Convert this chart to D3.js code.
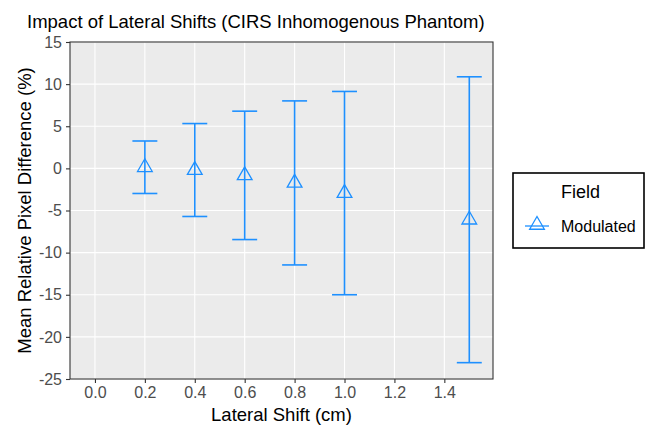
<!DOCTYPE html>
<html>
<head>
<meta charset="utf-8">
<script src="https://cdn.jsdelivr.net/npm/d3@7"></script>
<style>
  body { margin: 0; background: #fff; }
  svg { display: block; font-family: "Liberation Sans", Arial, sans-serif; }
</style>
</head>
<body>
<div class="content"></div>
<script>
const w = 645;
const h = 427;

// lateral shift (cm) and relative pixel difference (%)
const shifts = [0.2, 0.4, 0.6, 0.8, 1.0, 1.5];
const means = [0.13, -0.2, -0.83, -1.72, -2.93, -6.1];
const lower = [-2.98, -5.71, -8.45, -11.46, -15.0, -23.06];
const upper = [3.25, 5.32, 6.79, 8.01, 9.13, 10.87];

const xTicks = [0, 0.2, 0.4, 0.6, 0.8, 1.0, 1.2, 1.4];
const yTicks = [-25, -20, -15, -10, -5, 0, 5, 10, 15];
const seriesName = 'Modulated';
const colour = '#1e90ff';

const panel = { left: 70, right: 493, top: 42, bottom: 379 };

const svg = d3.select('.content').append('svg')
	.attr('width', w)
	.attr('height', h);

const x = d3.scaleLinear()
	.domain([-0.1, 1.595])
	.range([panel.left, panel.right]);

const y = d3.scaleLinear()
	.domain([-25, 15])
	.range([panel.bottom, panel.top]);

// panel background
svg.append('rect')
	.attr('x', panel.left)
	.attr('y', panel.top)
	.attr('width', panel.right - panel.left)
	.attr('height', panel.bottom - panel.top)
	.attr('fill', '#ebebeb');

// grid lines
svg.append('g')
	.selectAll('line')
	.data(xTicks)
	.join('line')
	.attr('x1', (d) => x(d))
	.attr('x2', (d) => x(d))
	.attr('y1', panel.top)
	.attr('y2', panel.bottom)
	.attr('stroke', '#fff')
	.attr('stroke-width', 1.1);

svg.append('g')
	.selectAll('line')
	.data(yTicks)
	.join('line')
	.attr('x1', panel.left)
	.attr('x2', panel.right)
	.attr('y1', (d) => y(d))
	.attr('y2', (d) => y(d))
	.attr('stroke', '#fff')
	.attr('stroke-width', 1.1);

// axes
const xAxis = d3.axisBottom(x)
	.tickValues(xTicks)
	.tickFormat((d) => d.toFixed(1))
	.tickSize(4)
	.tickPadding(4);

const yAxis = d3.axisLeft(y)
	.tickValues(yTicks)
	.tickFormat((d) => String(d))
	.tickSize(4)
	.tickPadding(4);

const gx = svg.append('g')
	.attr('transform', 'translate(0,' + panel.bottom + ')')
	.call(xAxis);

const gy = svg.append('g')
	.attr('transform', 'translate(' + panel.left + ',0)')
	.call(yAxis);

[gx, gy].forEach((g) => {
	g.select('.domain').remove();
	g.selectAll('.tick line').attr('stroke', '#333').attr('stroke-width', 1.1);
	g.selectAll('.tick text')
		.attr('fill', '#4d4d4d')
		.style('font-size', '16px')
		.style('font-family', '"Liberation Sans", Arial, sans-serif');
});

// panel border
svg.append('rect')
	.attr('x', panel.left)
	.attr('y', panel.top)
	.attr('width', panel.right - panel.left)
	.attr('height', panel.bottom - panel.top)
	.attr('fill', 'none')
	.attr('stroke', '#333')
	.attr('stroke-width', 1.1);

// error bars
const capHalf = x(0.05) - x(0);
const bars = svg.append('g');

bars.selectAll('.stem')
	.data(shifts)
	.join('line')
	.attr('x1', (d) => x(d))
	.attr('x2', (d) => x(d))
	.attr('y1', (d, i) => y(upper[i]))
	.attr('y2', (d, i) => y(lower[i]))
	.attr('stroke', colour)
	.attr('stroke-width', 1.6);

bars.selectAll('.capTop')
	.data(shifts)
	.join('line')
	.attr('x1', (d) => x(d) - capHalf)
	.attr('x2', (d) => x(d) + capHalf)
	.attr('y1', (d, i) => y(upper[i]))
	.attr('y2', (d, i) => y(upper[i]))
	.attr('stroke', colour)
	.attr('stroke-width', 1.6);

bars.selectAll('.capBottom')
	.data(shifts)
	.join('line')
	.attr('x1', (d) => x(d) - capHalf)
	.attr('x2', (d) => x(d) + capHalf)
	.attr('y1', (d, i) => y(lower[i]))
	.attr('y2', (d, i) => y(lower[i]))
	.attr('stroke', colour)
	.attr('stroke-width', 1.6);

// open triangles, like R pch 2
const r = 8.5;
const tri = (cx, cy) => {
	const xc = r * Math.sqrt(3) / 2;
	return 'M' + cx + ',' + (cy - r) +
		'L' + (cx + xc) + ',' + (cy + r / 2) +
		'L' + (cx - xc) + ',' + (cy + r / 2) + 'Z';
};

svg.append('g')
	.selectAll('path')
	.data(shifts)
	.join('path')
	.attr('d', (d, i) => tri(x(d), y(means[i])))
	.attr('fill', 'none')
	.attr('stroke', colour)
	.attr('stroke-width', 1.3);

// titles
svg.append('text')
	.attr('x', 27)
	.attr('y', 28)
	.attr('font-size', 18.5)
	.attr('fill', '#000')
	.text('Impact of Lateral Shifts (CIRS Inhomogenous Phantom)');

svg.append('text')
	.attr('x', (panel.left + panel.right) / 2)
	.attr('y', 421)
	.attr('text-anchor', 'middle')
	.attr('font-size', 18.5)
	.text('Lateral Shift (cm)');

svg.append('text')
	.attr('transform', 'translate(31,' + ((panel.top + panel.bottom) / 2) + ') rotate(-90)')
	.attr('text-anchor', 'middle')
	.attr('font-size', 18.5)
	.text('Mean Relative Pixel Difference (%)');

// legend
const legend = svg.append('g');

legend.append('rect')
	.attr('x', 513)
	.attr('y', 173)
	.attr('width', 131)
	.attr('height', 75)
	.attr('fill', '#fff')
	.attr('stroke', '#000')
	.attr('stroke-width', 1.6);

legend.append('text')
	.attr('x', 561)
	.attr('y', 198)
	.attr('font-size', 18)
	.text('Field');

legend.append('line')
	.attr('x1', 525)
	.attr('x2', 549)
	.attr('y1', 226)
	.attr('y2', 226)
	.attr('stroke', colour)
	.attr('stroke-width', 1.3);

legend.append('path')
	.attr('d', tri(537, 225))
	.attr('fill', 'none')
	.attr('stroke', colour)
	.attr('stroke-width', 1.3);

legend.append('text')
	.attr('x', 561)
	.attr('y', 232)
	.attr('font-size', 16)
	.text(seriesName);
</script>
</body>
</html>
